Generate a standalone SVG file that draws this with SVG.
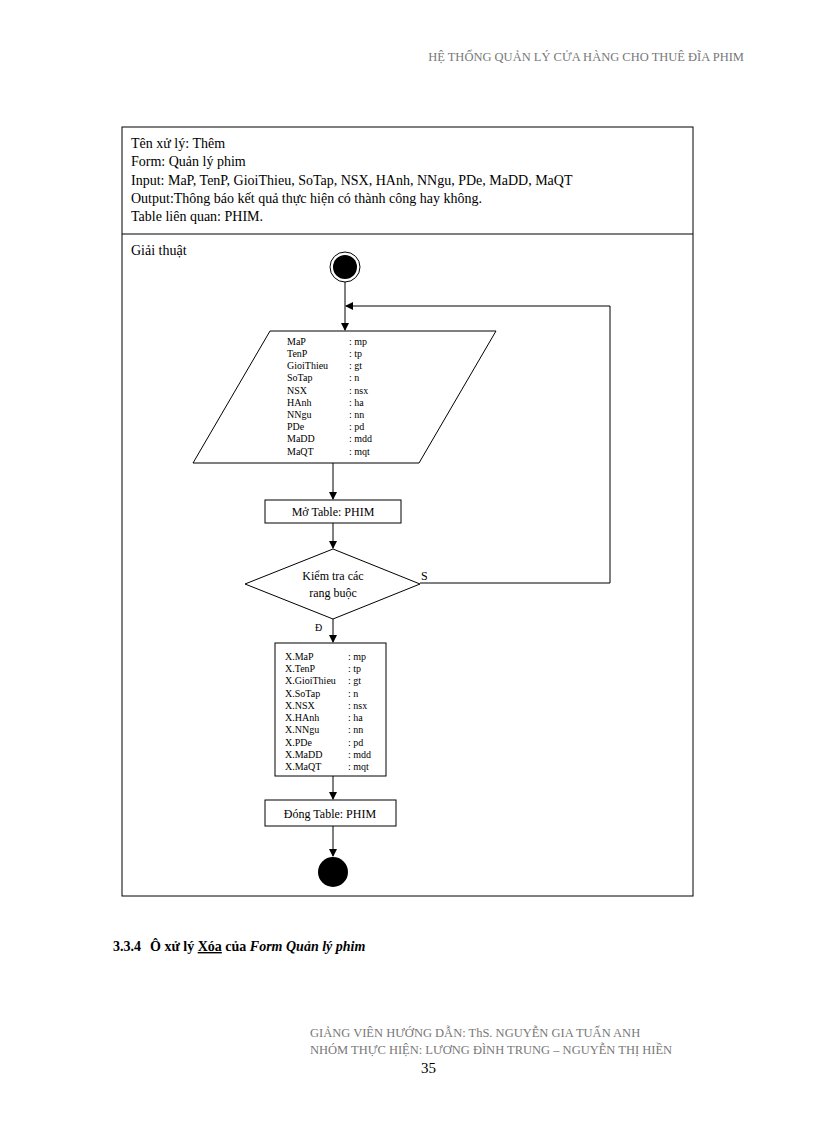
<svg xmlns="http://www.w3.org/2000/svg" width="816" height="1123" viewBox="0 0 816 1123">
<style>
text{font-family:"Liberation Serif","Times New Roman",serif;fill:#000}
.hd{font-size:14px}
.sm{font-size:10px}
.lb{font-size:12px}
.gr{fill:#777;font-size:12.5px}
.ln{stroke:#000;stroke-width:1;fill:none}
.sh{fill:#fff;stroke:#000;stroke-width:1}
</style>
<defs><marker id="a" markerWidth="8" markerHeight="8" refX="7" refY="4" orient="auto" markerUnits="userSpaceOnUse"><path d="M0,0 L8,4 L0,8 Z" fill="#000"/></marker></defs>
<rect width="816" height="1123" fill="#fff"/>
<text x="744" y="61" class="gr" text-anchor="end">HỆ THỐNG QUẢN LÝ CỬA HÀNG CHO THUÊ ĐĨA PHIM</text>
<g id="frame">
<rect x="122" y="127" width="571" height="769" class="ln"/>
<line x1="122" y1="234" x2="693" y2="234" class="ln"/>
<text x="131" y="148" class="hd">Tên xử lý:  Thêm</text>
<text x="131" y="166" class="hd">Form:  Quản lý  phim</text>
<text x="131" y="185" class="hd">Input:  MaP, TenP,  GioiThieu,   SoTap, NSX, HAnh,  NNgu,  PDe, MaDD,  MaQT</text>
<text x="131" y="203" class="hd">Output:Thông  báo kết quả thực hiện  có thành  công  hay không.</text>
<text x="131" y="221" class="hd">Table liên  quan:  PHIM.</text>
<text x="131" y="255" class="hd">Giải  thuật</text>
</g>
<g id="connectors">
<line x1="345" y1="282" x2="345" y2="330" class="ln" marker-end="url(#a)"/>
<polyline points="420,583 610,583 610,306 346,306" class="ln" marker-end="url(#a)"/>
<line x1="333" y1="463" x2="333" y2="499" class="ln" marker-end="url(#a)"/>
<line x1="333" y1="523" x2="333" y2="548" class="ln" marker-end="url(#a)"/>
<line x1="333" y1="619" x2="333" y2="642" class="ln" marker-end="url(#a)"/>
<line x1="333" y1="776" x2="333" y2="799" class="ln" marker-end="url(#a)"/>
<line x1="333" y1="826" x2="333" y2="856" class="ln" marker-end="url(#a)"/>
<text x="421" y="580" class="lb">S</text>
<text x="315" y="631" class="sm">Đ</text>
</g>
<g id="start"><circle cx="345" cy="267" r="15" class="sh"/><circle cx="345" cy="267" r="12" fill="#000"/></g>
<g id="input">
<polygon points="270,331 496,331 419,463 193,463" class="sh"/>
<g class="sm">
<text x="287" y="345">MaP</text><text x="349" y="345">: mp</text>
<text x="287" y="357">TenP</text><text x="349" y="357">: tp</text>
<text x="287" y="369">GioiThieu</text><text x="349" y="369">: gt</text>
<text x="287" y="381">SoTap</text><text x="349" y="381">: n</text>
<text x="287" y="394">NSX</text><text x="349" y="394">: nsx</text>
<text x="287" y="406">HAnh</text><text x="349" y="406">: ha</text>
<text x="287" y="418">NNgu</text><text x="349" y="418">: nn</text>
<text x="287" y="430">PDe</text><text x="349" y="430">: pd</text>
<text x="287" y="442">MaDD</text><text x="349" y="442">: mdd</text>
<text x="287" y="455">MaQT</text><text x="349" y="455">: mqt</text>
</g></g>
<g id="open"><rect x="265" y="500" width="136" height="23" class="sh"/><text x="333" y="516" class="lb" text-anchor="middle">Mở Table: PHIM</text></g>
<g id="check"><polygon points="333,549 420,584 333,619 245,584" class="sh"/>
<text x="333" y="580" class="lb" text-anchor="middle">Kiểm  tra các</text>
<text x="333" y="597" class="lb" text-anchor="middle">rang buộc</text></g>
<g id="assign"><rect x="275" y="643" width="111" height="133" class="sh"/>
<g class="sm">
<text x="285" y="660">X.MaP</text><text x="348" y="660">: mp</text>
<text x="285" y="672">X.TenP</text><text x="348" y="672">: tp</text>
<text x="285" y="684">X.GioiThieu</text><text x="348" y="684">: gt</text>
<text x="285" y="697">X.SoTap</text><text x="348" y="697">: n</text>
<text x="285" y="709">X.NSX</text><text x="348" y="709">: nsx</text>
<text x="285" y="721">X.HAnh</text><text x="348" y="721">: ha</text>
<text x="285" y="733">X.NNgu</text><text x="348" y="733">: nn</text>
<text x="285" y="746">X.PDe</text><text x="348" y="746">: pd</text>
<text x="285" y="758">X.MaDD</text><text x="348" y="758">: mdd</text>
<text x="285" y="770">X.MaQT</text><text x="348" y="770">: mqt</text>
</g></g>
<g id="close"><rect x="265" y="800" width="131" height="26" class="sh"/><text x="330" y="818" class="lb" text-anchor="middle">Đóng Table: PHIM</text></g>
<g id="end"><circle cx="333" cy="872" r="15" fill="#000"/></g>
<text x="113" y="951" style="font-size:14px;font-weight:bold">3.3.4<tspan x="150">Ô xử lý </tspan><tspan text-decoration="underline">Xóa</tspan> của <tspan font-style="italic">Form Quản lý phim</tspan></text>
<text x="310" y="1037" class="gr">GIẢNG  VIÊN  HƯỚNG  DẪN:  ThS. NGUYỄN   GIA  TUẤN  ANH</text>
<text x="310" y="1054" class="gr">NHÓM  THỰC  HIỆN:  LƯƠNG  ĐÌNH  TRUNG  – NGUYỄN   THỊ  HIỀN</text>
<text x="421" y="1073" style="font-size:15px">35</text>
</svg>
